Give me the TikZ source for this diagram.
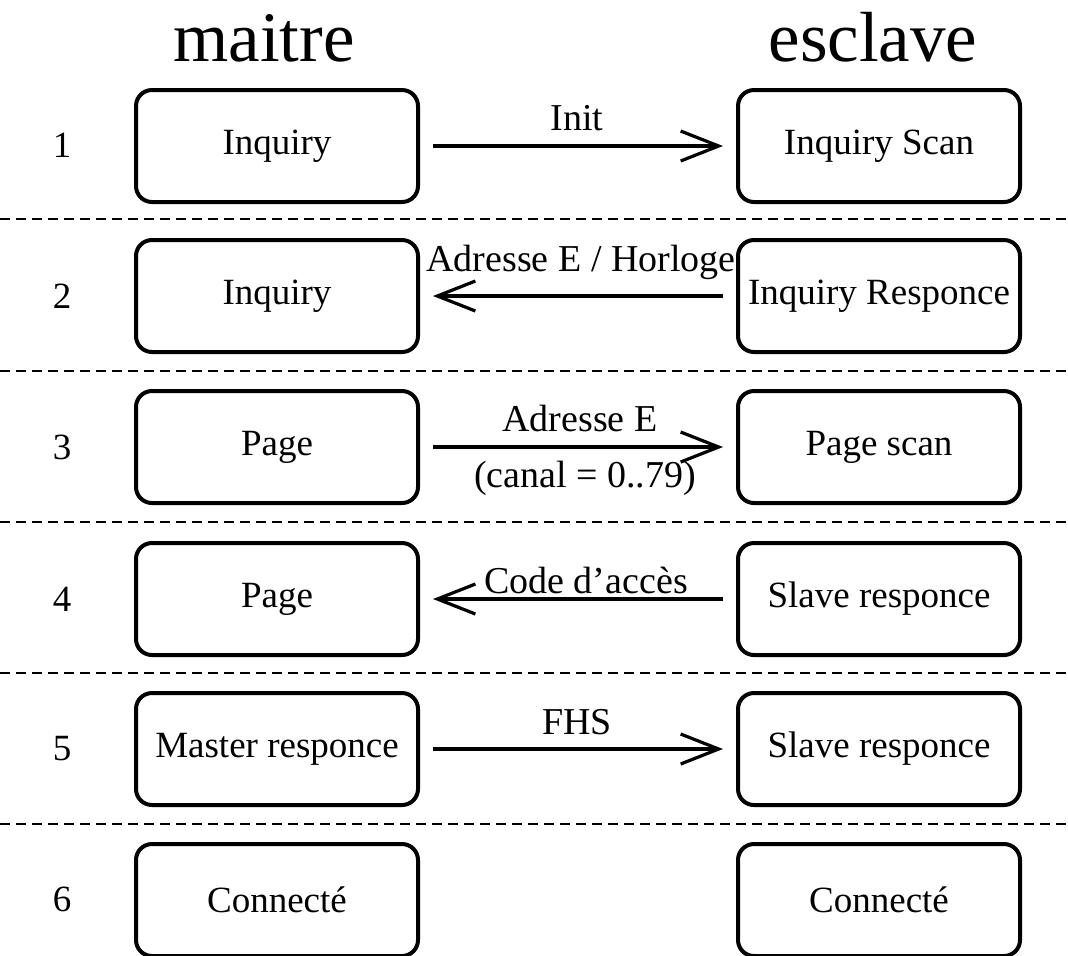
\documentclass[tikz,border=0pt]{standalone}
\usepackage{fontspec}
\setmainfont{Liberation Serif}
\usetikzlibrary{arrows.meta}
\begin{document}
\begin{tikzpicture}[x=0.5pt,y=-0.5pt,
  stbox/.style={draw, line width=2pt, rounded corners=8pt, minimum width=141pt, minimum height=56pt, inner sep=0pt, font=\fontsize{18.5}{22}\selectfont},
  title/.style={font=\fontsize{35.5}{40}\selectfont, anchor=base},
  num/.style={font=\fontsize{18.5}{22}\selectfont},
  lbl/.style={font=\fontsize{19}{22}\selectfont},
  msg/.style={line width=1.6pt, -{Straight Barb[length=19pt,width=15pt,line width=1.6pt]}, shorten >=6.5pt, shorten <=6.5pt},
  sep/.style={line width=0.75pt, dash pattern=on 5pt off 3pt}]
\useasboundingbox (0,0) rectangle (1068,955);
\clip (0,0) rectangle (1068,955);
% titles
\node[title] (tm) at (264,61) {maitre};
\node[title] (te) at (873,61) {esclave};
% separators
\foreach \y/\n in {219/1,371/2,522/3,673/4,824/5}{
  \coordinate (sl\n) at (0,\y);
  \coordinate (sr\n) at (1068,\y);
  \draw[sep] (sl\n) -- (sr\n);
}
% row numbers
\node[num] (n1) at (62,145) {1};
\node[num] (n2) at (62,296) {2};
\node[num] (n3) at (62,447) {3};
\node[num] (n4) at (62,599) {4};
\node[num] (n5) at (62,749) {5};
\node[num] (n6) at (62,899) {6};
% boxes
\node[stbox] (m1) at (277,146) {Inquiry};
\node[stbox] (e1) at (879,146) {Inquiry Scan};
\node[stbox] (m2) at (277,296) {Inquiry};
\node[stbox] (e2) at (879,296) {Inquiry Responce};
\node[stbox] (m3) at (277,447) {Page};
\node[stbox] (e3) at (879,447) {Page scan};
\node[stbox] (m4) at (277,599) {Page};
\node[stbox] (e4) at (879,599) {Slave responce};
\node[stbox] (m5) at (277,749) {Master responce};
\node[stbox] (e5) at (879,749) {Slave responce};
\node[stbox] (m6) at (277,900) {Connecté};
\node[stbox] (e6) at (879,900) {Connecté};
% arrows
\draw[msg] (m1) -- (e1);
\draw[msg] (e2) -- (m2);
\draw[msg] (m3) -- (e3);
\draw[msg] (e4) -- (m4);
\draw[msg] (m5) -- (e5);
% labels
\node[lbl] (l1) at (577,118) {Init};
\node[lbl] (l2) at (581,262) {Adresse E / Horloge};
\node[lbl] (l3a) at (580,418) {Adresse E};
\node[lbl] (l3b) at (585,478) {(canal = 0..79)};
\node[lbl] (l4) at (586,580) {Code d’accès};
\node[lbl] (l5) at (577,722) {FHS};
\end{tikzpicture}
\end{document}
